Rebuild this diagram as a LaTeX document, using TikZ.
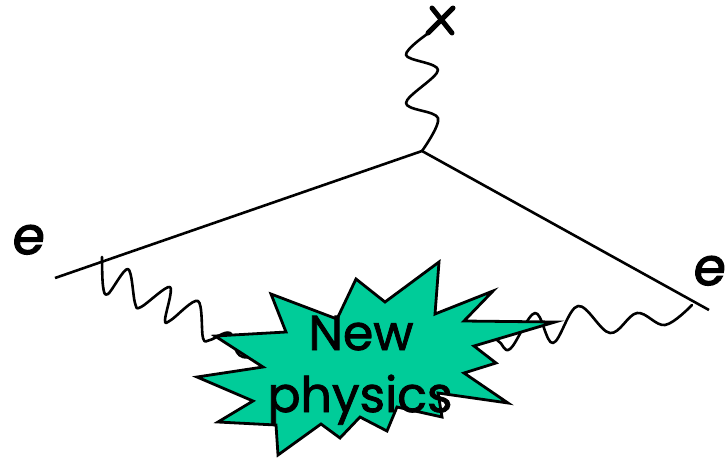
\documentclass[tikz,border=0pt]{standalone}
\usepackage{fontspec}
\setmainfont[FakeBold=1.6]{Poppins}
\newfontfamily\chargefont[FakeBold=2.4,FakeSlant=0.12]{Poppins}
\definecolor{starfill}{HTML}{00CC99}
\tikzset{
  fermion/.style={line width=2.6pt,black},
  photon/.style={line width=2.6pt,black,line join=round,line cap=round},
  burst/.style={draw=black,line width=2.8pt,fill=starfill,line join=miter,miter limit=10},
  crossmark/.style={line width=5pt,line cap=round},
  bigtext/.style={inner sep=0pt,anchor=base,font=\fontsize{49}{60}\selectfont},
  charge/.style={inner sep=0pt,anchor=base,font=\chargefont\fontsize{52}{60}\selectfont}
}
\begin{document}
\begin{tikzpicture}[x=1pt,y=-1pt]
\useasboundingbox (0,0) rectangle (727,459);
\coordinate (apex) at (422,151);
\coordinate (eL) at (55,278);
\coordinate (eR) at (709,310);
\draw[fermion] (eL) -- (apex) -- (eR);
\draw[photon] plot[smooth,tension=0.55] coordinates {(430,32) (406,55) (438,70) (406,103) (438,118) (422,151)};
\draw[photon] plot[smooth,tension=0.55] coordinates {(102,257) (103,286) (108,294) (128,269) (135,303) (141,307) (170,287) (165,320) (171,320) (198,301) (203,338) (210,340) (230,333) (243,357) (300,350)};
\draw[photon] plot[smooth,tension=0.6] coordinates {(470,330) (497,340) (510,349) (535,313) (553,343) (578,306) (610,333) (637,313) (665,325) (692,305)};
\draw[burst] (215,336) -- (286,332) -- (271,294) -- (337,319) -- (356,279) -- (385,302) -- (439,262) -- (435,314) -- (493,291) -- (464,321) -- (555,322) -- (474,346) -- (496,363) -- (464,373) -- (508,403) -- (438,393) -- (442,417) -- (397,407) -- (387,431) -- (360,417) -- (340,438) -- (321,424) -- (278,455) -- (276,425) -- (218,422) -- (253,401) -- (197,377) -- (263,367) -- cycle;
\draw[crossmark] (432,8) -- (452,33);
\draw[crossmark] (453,8) -- (428,33);
\node[bigtext] (new) at (361,350) {New};
\node[bigtext] (phys) at (360,412) {physics};
\node[charge] (e1) at (27,254) {e};
\node[charge] (e2) at (708,285) {e};
\end{tikzpicture}
\end{document}
